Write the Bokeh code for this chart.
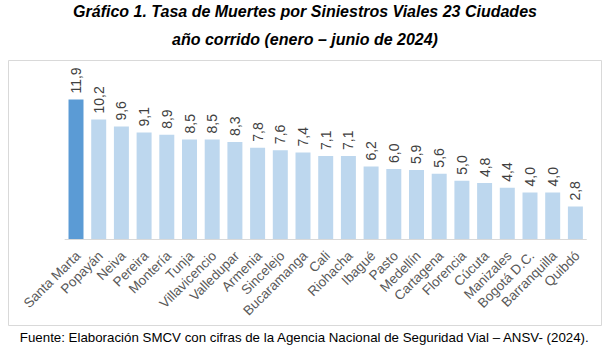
import math
from bokeh.plotting import figure
from bokeh.models import ColumnDataSource, Title
from bokeh.core.properties import value
from bokeh.embed import file_html
from bokeh.resources import INLINE

cities = ["Santa Marta", "Popayán", "Neiva", "Pereira", "Montería", "Tunja",
          "Villavicencio", "Valledupar", "Armenia", "Sincelejo", "Bucaramanga",
          "Cali", "Riohacha", "Ibagué", "Pasto", "Medellín", "Cartagena",
          "Florencia", "Cúcuta", "Manizales", "Bogotá D.C.", "Barranquilla", "Quibdó"]
rates = [11.9, 10.2, 9.6, 9.1, 8.9, 8.5, 8.5, 8.3, 7.8, 7.6, 7.4,
         7.1, 7.1, 6.2, 6.0, 5.9, 5.6, 5.0, 4.8, 4.4, 4.0, 4.0, 2.8]
highlight = "Santa Marta"

title_line1 = "Gráfico 1. Tasa de Muertes por Siniestros Viales 23 Ciudades"
title_line2 = "año corrido (enero – junio de 2024)"
source_note = "Fuente: Elaboración SMCV con cifras de la Agencia Nacional de Seguridad Vial – ANSV- (2024)."

DARK = "#5B9BD5"
LIGHT = "#BDD7EE"
n = len(cities)
xs = list(range(n))
src = ColumnDataSource(dict(
    x=xs, y=rates, name=cities,
    label=[f"{v:.1f}".replace(".", ",") for v in rates],
    color=[DARK if c == highlight else LIGHT for c in cities],
    zero=[0] * n,
))

p = figure(width=607, height=354, output_backend="svg", toolbar_location=None,
           x_range=(-2.974, 23.15), y_range=(-7.31, 15.22),
           min_border_left=8, min_border_right=6, min_border_top=60, min_border_bottom=29)
p.xaxis.visible = False
p.yaxis.visible = False
p.xgrid.visible = False
p.ygrid.visible = False
p.outline_line_color = "#D9D9D9"
p.outline_line_width = 1
p.background_fill_color = "white"
p.border_fill_color = "white"

p.vbar(x="x", top="y", bottom=0, width=0.66, fill_color="color", line_color=None, source=src)
p.segment(x0=-0.5, x1=n - 0.5, y0=0, y1=0, line_color="#D9D9D9", line_width=1)

p.text(x="x", y="y", text="label", source=src, angle=math.pi / 2,
       text_align="left", text_baseline="middle", y_offset=-6,
       text_font=value("Liberation Sans"), text_font_size="14px", text_color="#404040")

p.text(x="x", y="zero", text="name", source=src, angle=math.pi / 4,
       text_align="right", text_baseline="middle", x_offset=2, y_offset=14,
       text_font=value("Liberation Sans"), text_font_size="13.5px", text_color="#595959")

p.add_layout(Title(text=title_line2, align="center", text_font="Liberation Sans",
                   text_font_style="bold italic", text_font_size="16px",
                   text_color="black", standoff=25), "above")
p.add_layout(Title(text=title_line1, align="center", text_font="Liberation Sans",
                   text_font_style="bold italic", text_font_size="16px",
                   text_color="black", standoff=-7), "above")
p.add_layout(Title(text=source_note, align="center", text_font="Liberation Sans",
                   text_font_style="normal", text_font_size="13.3px",
                   text_color="black", standoff=4), "below")

open("out.html", "w").write(file_html(p, INLINE))
